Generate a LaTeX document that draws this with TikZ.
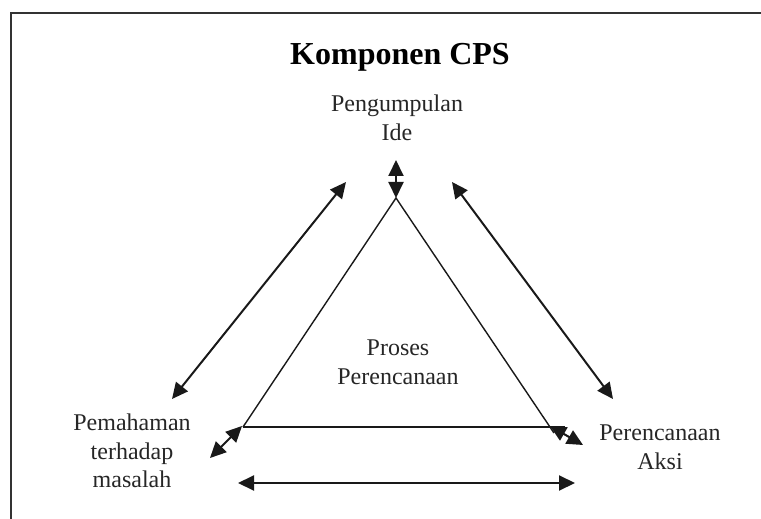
\documentclass[tikz,border=0pt]{standalone}
\usepackage{fontspec}
\setmainfont{Liberation Serif}
\usetikzlibrary{arrows.meta}

\begin{document}
\begin{tikzpicture}[x=0.5pt,y=-0.5pt,
    teks/.style={align=center, text=black!85, font=\fontsize{12}{14.3}\selectfont},
    panah/.style={{Triangle[length=8pt,width=7.5pt]}-{Triangle[length=8pt,width=7.5pt]}, line width=1pt, black!90},
    sisi/.style={line width=0.7pt, black!90}]
    \useasboundingbox (0,0) rectangle (761,519);

    % Bingkai
    \draw[line width=0.8pt, black!80] (761,13) -- (11,13) -- (11,519);

    % Judul
    \node (judul) at (400,57) {\fontsize{16}{19}\selectfont\bfseries Komponen CPS};

    % Komponen
    \node[teks] (ide) at (397,118) {Pengumpulan\\Ide};
    \node[teks] (masalah) at (132,451) {Pemahaman\\terhadap\\masalah};
    \node[teks] (aksi) at (660,447) {Perencanaan\\Aksi};
    \node[teks] (proses) at (398,362) {Proses\\Perencanaan};

    % Segitiga
    \coordinate (puncak) at (396,198);
    \coordinate (kiri) at (243,427);
    \coordinate (kanan) at (554,433);
    \coordinate (ujung) at (565,427);
    \draw[sisi] (kiri) -- (puncak) -- (kanan);
    \draw[sisi, line width=0.9pt] (kiri) -- (ujung);

    % Panah pendek di sudut
    \coordinate (a1) at (396,198);
    \coordinate (a2) at (396,160);
    \draw[panah] (a1) -- (a2);

    \coordinate (b1) at (242,426);
    \coordinate (b2) at (210,458);
    \draw[panah] (b1) -- (b2);

    \coordinate (c1) at (550,426);
    \coordinate (c2) at (583,445);
    \draw[panah] (c1) -- (c2);

    % Panah panjang
    \coordinate (d1) at (346,182);
    \coordinate (d2) at (172,399);
    \draw[panah] (d1) -- (d2);

    \coordinate (e1) at (452,182);
    \coordinate (e2) at (613,399);
    \draw[panah] (e1) -- (e2);

    \coordinate (f1) at (238,483);
    \coordinate (f2) at (575,483);
    \draw[panah] (f1) -- (f2);
\end{tikzpicture}
\end{document}
